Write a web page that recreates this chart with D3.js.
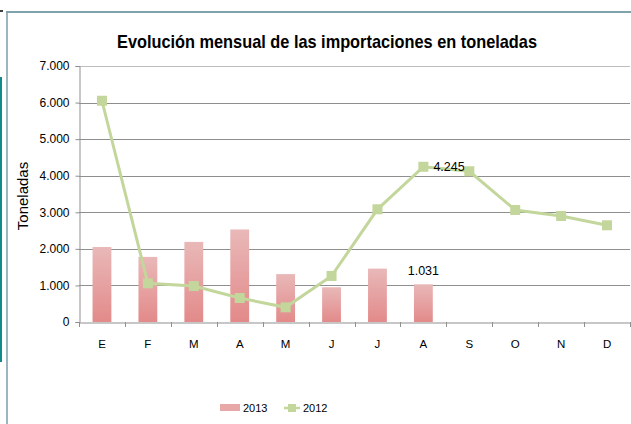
<!DOCTYPE html>
<html>
<head>
<meta charset="utf-8" />
<script src="https://cdnjs.cloudflare.com/ajax/libs/d3/7.8.5/d3.min.js"></script>
<style>
body { margin: 0; background: #fff; }
svg text { font-family: "Liberation Sans Narrow", "Liberation Sans", Arial, sans-serif; fill: #000; }
</style>
</head>
<body>
<svg id="chart" width="631" height="424"></svg>
<script>
// data
var months = ["E", "F", "M", "A", "M", "J", "J", "A", "S", "O", "N", "D"];
var imp2013 = [2050, 1780, 2190, 2530, 1310, 950, 1460, 1031];
var imp2012 = [6050, 1058, 984, 656, 401, 1258, 3082, 4245, 4121, 3063, 2899, 2644];
var yTicks = [0, 1000, 2000, 3000, 4000, 5000, 6000, 7000];

var svg = d3.select("#chart");
var margin = {left: 79, right: 630, top: 66, bottom: 322};

var x = d3.scaleBand()
    .domain(d3.range(months.length))
    .range([margin.left, margin.right]);
var y = d3.scaleLinear().domain([0, 7000]).range([margin.bottom, margin.top]);
var fmt = function(v) { return d3.format(",")(v).replace(/,/g, "."); };

// frame
svg.append("line").attr("x1", 7).attr("x2", 7).attr("y1", 11).attr("y2", 424)
    .attr("stroke", "#9cb6c0").attr("stroke-width", 2);
svg.append("line").attr("x1", 6).attr("x2", 631).attr("y1", 12).attr("y2", 12)
    .attr("stroke", "#7fa2ac").attr("stroke-width", 2);
svg.append("line").attr("x1", 0).attr("x2", 3).attr("y1", 11).attr("y2", 11)
    .attr("stroke", "#000").attr("stroke-width", 1.5);
svg.append("line").attr("x1", 1).attr("x2", 1).attr("y1", 77).attr("y2", 362)
    .attr("stroke", "#128a8a").attr("stroke-width", 2);

// gradient for bars
var grad = svg.append("defs").append("linearGradient")
    .attr("id", "barGrad").attr("x1", 0).attr("y1", 0).attr("x2", 0).attr("y2", 1);
grad.append("stop").attr("offset", "0%").attr("stop-color", "#e9b8b8");
grad.append("stop").attr("offset", "100%").attr("stop-color", "#e38a8a");

// gridlines
svg.append("g")
  .selectAll("line").data(yTicks.filter(function(d) { return d > 0; }))
  .join("line")
    .attr("x1", margin.left).attr("x2", margin.right)
    .attr("y1", function(d) { return Math.round(y(d)) + 0.5; })
    .attr("y2", function(d) { return Math.round(y(d)) + 0.5; })
    .attr("stroke", function(d) { return d == 7000 ? "#bdbdbd" : "#8f8f8f"; })
    .attr("stroke-width", 1);

// y axis
var yAxis = svg.append("g")
    .attr("transform", "translate(" + (margin.left + 0.5) + ",0)")
    .call(d3.axisLeft(y).tickValues(yTicks).tickFormat(fmt).tickSize(4).tickPadding(6));
yAxis.select(".domain").attr("stroke", "#8f8f8f");
yAxis.selectAll(".tick line").attr("stroke", "#8f8f8f");
yAxis.selectAll("text").style("font-family", "'Liberation Sans', Arial, sans-serif")
    .style("font-size", "12px").attr("fill", "#222");

// x axis
var xAxis = svg.append("g")
    .attr("transform", "translate(0," + (margin.bottom + 0.5) + ")")
    .call(d3.axisBottom(x).tickFormat(function(i) { return months[i]; }).tickSize(0).tickPadding(17));
xAxis.select(".domain").attr("stroke", "#8f8f8f");
xAxis.selectAll("text").style("font-size", "11.5px").attr("fill", "#222");
svg.append("g").selectAll("line").data(d3.range(months.length + 1))
  .join("line")
    .attr("x1", function(i) { return Math.round(margin.left + i * x.step()) + 0.5; })
    .attr("x2", function(i) { return Math.round(margin.left + i * x.step()) + 0.5; })
    .attr("y1", margin.bottom).attr("y2", margin.bottom + 5)
    .attr("stroke", "#8f8f8f");

// bars 2013
var bw = x.bandwidth() * 0.41;
svg.append("g").selectAll("rect").data(imp2013)
  .join("rect")
    .attr("x", function(d, i) { return x(i) + (x.bandwidth() - bw) / 2; })
    .attr("width", bw)
    .attr("y", function(d) { return y(d); })
    .attr("height", function(d) { return y(0) - y(d); })
    .attr("fill", "url(#barGrad)");

// line 2012
var cx = function(i) { return x(i) + x.bandwidth() / 2; };
svg.append("path")
    .datum(imp2012)
    .attr("fill", "none")
    .attr("stroke", "#c3d69b")
    .attr("stroke-width", 3)
    .attr("d", d3.line().x(function(d, i) { return cx(i); }).y(function(d) { return y(d); }));
svg.append("g").selectAll("rect").data(imp2012)
  .join("rect")
    .attr("x", function(d, i) { return cx(i) - 5; })
    .attr("y", function(d) { return y(d) - 5; })
    .attr("width", 10).attr("height", 10)
    .attr("fill", "#c3d69b");

// data labels
svg.append("text")
    .attr("x", cx(7) + 10).attr("y", y(4245) + 4)
    .style("font-size", "12.5px").text(fmt(4245));
svg.append("text")
    .attr("x", cx(7)).attr("y", y(1031) - 9)
    .attr("text-anchor", "middle")
    .style("font-size", "12.5px").text(fmt(1031));

// title
svg.append("text")
    .attr("x", 327).attr("y", 48)
    .attr("text-anchor", "middle")
    .attr("textLength", 420).attr("lengthAdjust", "spacingAndGlyphs")
    .style("font-size", "19px").style("font-weight", "bold")
    .text("Evolución mensual de las importaciones en toneladas");

// y title
svg.append("text")
    .attr("transform", "translate(28,196) rotate(-90)")
    .attr("text-anchor", "middle")
    .style("font-family", "'Liberation Sans', Arial, sans-serif")
    .style("font-size", "15px")
    .text("Toneladas");

// legend
var lg = svg.append("g").attr("transform", "translate(220,408)");
lg.append("rect").attr("x", 0).attr("y", -4).attr("width", 20).attr("height", 7).attr("fill", "#e8a8a8");
lg.append("text").attr("x", 23).attr("y", 4).style("font-size", "11px").text("2013");
lg.append("line").attr("x1", 64).attr("x2", 80).attr("y1", 0).attr("y2", 0)
    .attr("stroke", "#c3d69b").attr("stroke-width", 2.5);
lg.append("rect").attr("x", 68).attr("y", -4).attr("width", 8).attr("height", 8).attr("fill", "#c3d69b");
lg.append("text").attr("x", 83).attr("y", 4).style("font-size", "11px").text("2012");
</script>
</body>
</html>
